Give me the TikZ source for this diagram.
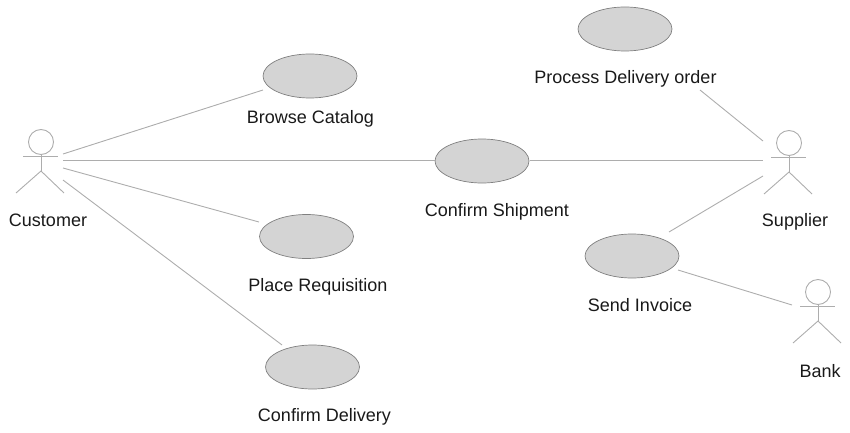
\documentclass[tikz,border=0pt]{standalone}
\usepackage{fontspec}
\setmainfont{Liberation Sans}
\usetikzlibrary{shapes.geometric}
\definecolor{linegray}{gray}{0.68}
\definecolor{fillgray}{gray}{0.83}
\tikzset{
  usecase/.style={ellipse,draw=gray,fill=fillgray,line width=0.7pt,
    minimum width=94pt,minimum height=44pt,inner sep=0pt},
  caption/.style={font=\fontsize{18pt}{20pt}\selectfont,text=black!90,inner sep=0pt},
  link/.style={draw=linegray,line width=0.9pt},
  actor/.pic={
    \node[circle,draw=linegray,line width=0.9pt,minimum size=25pt,inner sep=0pt] (-head) {};
    \draw[link] (-18,14) -- (17,14);
    \draw[link] (-head.south) -- (0,29) coordinate (-hip);
    \draw[link] (-25,51) -- (-hip) -- (23,51);
  }
}
\begin{document}
\begin{tikzpicture}[x=1pt,y=-1pt]
  \useasboundingbox (0,0) rectangle (850,433);
  % actors
  \pic (customer) at (41,142) {actor};
  \pic (supplier) at (789,143) {actor};
  \pic (bank) at (818,292) {actor};
  % use cases
  \node[usecase] (browse) at (310,76) {};
  \node[usecase] (process) at (625,29) {};
  \node[usecase] (shipment) at (482,161) {};
  \node[usecase] (place) at (306.5,236.5) {};
  \node[usecase] (invoice) at (632,256) {};
  \node[usecase] (delivery) at (312.5,367) {};
  % labels
  \node[caption] (lbrowse) at (310.5,119) {Browse Catalog};
  \node[caption] (lprocess) at (625.5,79) {Process Delivery order};
  \node[caption] (lshipment) at (497,212) {Confirm Shipment};
  \node[caption] (lplace) at (318,287) {Place Requisition};
  \node[caption] (linvoice) at (640,305) {Send Invoice};
  \node[caption] (ldelivery) at (324.5,417) {Confirm Delivery};
  \node[caption] (lcustomer) at (48,220) {Customer};
  \node[caption] (lsupplier) at (795,222) {Supplier};
  \node[caption] (lbank) at (820,371) {Bank};
  % free ends of the connectors
  \coordinate (c1) at (63,154);
  \coordinate (c2) at (63,160);
  \coordinate (c3) at (63,168);
  \coordinate (c4) at (63,180);
  \coordinate (r1) at (263,90);
  \coordinate (q1) at (259,222);
  \coordinate (d4) at (282,345);
  \coordinate (p1) at (700,90);
  \coordinate (s1) at (763,141);
  \coordinate (s2) at (763,160);
  \coordinate (s3) at (763,176);
  \coordinate (i1) at (669,232);
  \coordinate (i2) at (678,270);
  \coordinate (b1) at (792,305);
  \coordinate (e1) at (435,160);
  \coordinate (e2) at (530,160);
  % connectors
  \draw[link] (c1) -- (r1);
  \draw[link] (c2) -- (e1);
  \draw[link] (c3) -- (q1);
  \draw[link] (c4) -- (d4);
  \draw[link] (p1) -- (s1);
  \draw[link] (e2) -- (s2);
  \draw[link] (i1) -- (s3);
  \draw[link] (i2) -- (b1);
\end{tikzpicture}
\end{document}
